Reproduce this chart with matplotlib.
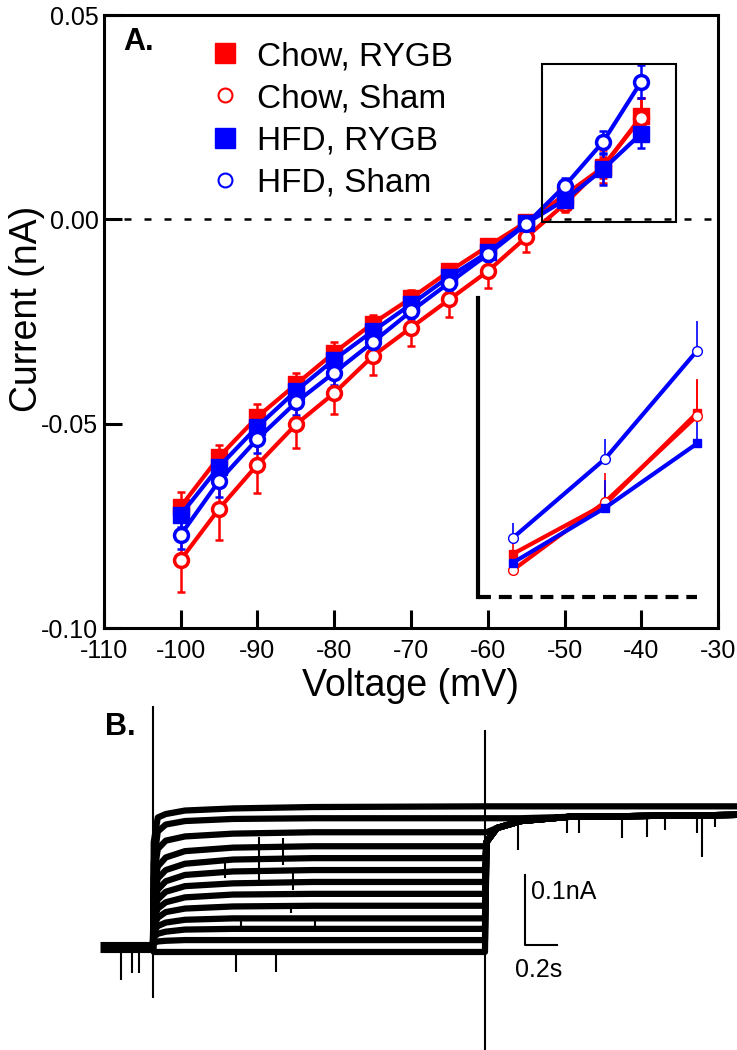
import matplotlib
matplotlib.use("Agg")
import matplotlib.pyplot as plt
import numpy as np
from matplotlib import font_manager as fm
from matplotlib.lines import Line2D
from matplotlib.patches import Rectangle

names = {f.name for f in fm.fontManager.ttflist}
narrow = 'Liberation Sans Narrow' if 'Liberation Sans Narrow' in names else 'Liberation Sans'
plt.rcParams['font.family'] = ['Liberation Sans', 'DejaVu Sans']

# ---- panel A data (I-V curves) ----
voltage = [-100, -95, -90, -85, -80, -75, -70, -65, -60, -55, -50, -45, -40]
chow_rygb = [-0.0703, -0.0581, -0.0483, -0.0404, -0.0326, -0.0255, -0.0193, -0.0127, -0.0066, -0.0007, 0.0059, 0.0127, 0.0252]
chow_sham = [-0.0833, -0.0708, -0.0600, -0.0502, -0.0425, -0.0335, -0.0265, -0.0196, -0.0127, -0.0044, 0.0037, 0.0130, 0.0248]
hfd_rygb = [-0.0723, -0.0605, -0.0507, -0.0420, -0.0343, -0.0274, -0.0208, -0.0140, -0.0081, -0.0010, 0.0047, 0.0122, 0.0210]
hfd_sham = [-0.0772, -0.0640, -0.0537, -0.0448, -0.0375, -0.0301, -0.0225, -0.0155, -0.0086, -0.0012, 0.0081, 0.0189, 0.0337]
chow_rygb_sem = [0.0035, 0.003, 0.003, 0.0028, 0.0025, 0.0022, 0.002, 0.0018, 0.0015, 0.0014, 0.0014, 0.0025, 0.0045]
chow_sham_sem = [0.0078, 0.0076, 0.0069, 0.0058, 0.0052, 0.0045, 0.0045, 0.0044, 0.0040, 0.0037, 0.0020, 0.0040, 0.0050]
hfd_rygb_sem = [0.0030, 0.003, 0.0028, 0.0025, 0.0022, 0.002, 0.002, 0.0018, 0.0015, 0.0014, 0.0014, 0.0038, 0.0035]
hfd_sham_sem = [0.0034, 0.0040, 0.0035, 0.0030, 0.0030, 0.0025, 0.0020, 0.0020, 0.0015, 0.0015, 0.0020, 0.0027, 0.0041]
xticks = [-110, -100, -90, -80, -70, -60, -50, -40, -30]
yticks = [0.05, 0.00, -0.05, -0.10]
ytick_labels = ['0.05', '0.00', '-0.05', '-0.10']
labels = ['Chow, RYGB', 'Chow, Sham', 'HFD, RYGB', 'HFD, Sham']

# ---- panel B data (current traces, nA vs s) ----
pre_t = [-0.33, 0.0]
step_t = [0.0, 0.005, 0.03, 0.08, 0.2, 0.5, 1.0, 2.075]
step_i = [
    [0.15, 0.185, 0.19, 0.195, 0.198, 0.200, 0.201],
    [0.12, 0.165, 0.175, 0.180, 0.183, 0.184, 0.184],
    [0.10, 0.140, 0.152, 0.158, 0.162, 0.164, 0.164],
    [0.085, 0.115, 0.128, 0.137, 0.142, 0.144, 0.144],
    [0.07, 0.098, 0.110, 0.119, 0.125, 0.127, 0.127],
    [0.06, 0.082, 0.094, 0.103, 0.108, 0.110, 0.110],
    [0.05, 0.068, 0.079, 0.087, 0.091, 0.093, 0.093],
    [0.04, 0.055, 0.064, 0.071, 0.075, 0.076, 0.076],
    [0.03, 0.042, 0.050, 0.055, 0.058, 0.059, 0.059],
    [0.022, 0.030, 0.035, 0.039, 0.041, 0.041, 0.041],
    [0.014, 0.019, 0.022, 0.025, 0.026, 0.026, 0.026],
    [0.006, 0.008, 0.009, 0.010, 0.010, 0.010, 0.010],
    [-0.007, -0.007, -0.007, -0.007, -0.007, -0.007, -0.007],
]
tail_t = [2.085, 2.15, 2.3, 2.6, 4.09]
tail_i = [0.15, 0.17, 0.18, 0.186, 0.19]
spike_t = [-0.20, -0.133, -0.0875, 0.52, 0.45, 0.66, 0.81, 0.875, 0.86, 0.55, 0.77, 1.01,
           2.28, 2.59, 2.66, 2.93, 3.09, 3.2, 3.4, 3.43, 3.51]
spike_hi = [0.0, 0.0, 0.0, -0.007, 0.124, 0.157, 0.156, 0.110, 0.063, 0.039, -0.007, 0.043,
            0.186, 0.186, 0.186, 0.186, 0.186, 0.186, 0.186, 0.186, 0.186]
spike_lo = [-0.047, -0.037, -0.037, -0.036, 0.099, 0.093, 0.117, 0.081, 0.049, 0.021, -0.036, 0.024,
            0.139, 0.163, 0.163, 0.156, 0.157, 0.167, 0.163, 0.129, 0.171]
transient_t = [0.0, 2.075]
transient_lo = [-0.073, -0.147]
transient_hi = [0.345, 0.31]

red = '#ff0000'
blue = '#0000ff'
series = [(chow_rygb, chow_rygb_sem, red, 's'),
          (chow_sham, chow_sham_sem, red, 'o'),
          (hfd_rygb, hfd_rygb_sem, blue, 's'),
          (hfd_sham, hfd_sham_sem, blue, 'o')]

fig = plt.figure(figsize=(7.37, 10.5), dpi=100)
W, H = 737., 1050.

# ---- panel A ----
ax = fig.add_axes([104/W, 1-628/H, (718-104)/W, (628-15)/H])
ax.axhline(0, color='k', lw=1.8, ls=(0, (2.8, 5.2)), zorder=1)
for y, e, c, m in series:
    ax.errorbar(voltage, y, yerr=e, fmt='none', ecolor=c, elinewidth=1.8,
                capsize=3, capthick=1.8, zorder=2)
    if m == 's':
        ax.plot(voltage, y, color=c, lw=3, marker='s', ms=11, zorder=3)
    else:
        ax.plot(voltage, y, color=c, lw=3, marker='o', ms=10, mfc='white',
                mec=c, mew=2.5, zorder=3)
ax.add_patch(Rectangle((-52.9, -0.0007), 17.4, 0.0386, fill=False, lw=1.5,
                       ec='k', zorder=4))
ax.set_xlim(-110, -30)
ax.set_ylim(-0.10, 0.05)
ax.set_xticks(xticks)
ax.set_xticklabels([str(v) for v in xticks], family=narrow, fontsize=18)
ax.set_yticks(yticks)
ax.set_yticklabels(ytick_labels, family=narrow, fontsize=18)
ax.tick_params(direction='in', length=13, width=2.2, pad=4)
ax.tick_params(axis='x', pad=8)
for s in ax.spines.values():
    s.set_linewidth(2.2)
ax.set_xlabel('Voltage (mV)', fontsize=27)
ax.xaxis.set_label_coords(0.5, -0.065)
ax.set_ylabel('Current (nA)', fontsize=27)
ax.yaxis.set_label_coords(-0.096, 0.52)

# legend drawn by hand
rows = [53, 95, 138, 180]
for (y, e, c, m), lab, r in zip(series, labels, rows):
    if m == 's':
        h = Line2D([225/W], [1-r/H], transform=fig.transFigure, marker='s', ms=14,
                   color=c, ls='none')
    else:
        h = Line2D([225/W], [1-r/H], transform=fig.transFigure, marker='o', ms=10,
                   mfc='white', mec=c, mew=1.5, ls='none')
    fig.lines.append(h)
    fig.text(257/W, 1-(r+12)/H, lab, fontsize=24, va='baseline', ha='left')
fig.text(123/W, 1-(39+11)/H, 'A.', fontsize=22, weight='bold', va='baseline')

# inset
axi = fig.add_axes([478/W, 1-597/H, 232/W, 299/H])
axi.set_xlim(-51.9, -39.3)
axi.set_ylim(0, 0.0409)
axi.patch.set_alpha(0)
for k in ['top', 'right', 'bottom']:
    axi.spines[k].set_visible(False)
axi.spines['left'].set_linewidth(3)
axi.set_xticks([])
axi.set_yticks([])
axi.axhline(0, xmax=0.944, color='k', lw=3, ls=(0, (3.1, 1.9)), clip_on=False)
for y, e, c, m in series:
    yy = y[-3:]
    axi.errorbar(voltage[-3:], yy, yerr=[np.zeros(3), e[-3:]], fmt='none',
                 ecolor=c, elinewidth=1.2, capsize=0, zorder=2)
    if m == 's':
        axi.plot(voltage[-3:], yy, color=c, lw=3, marker='s', ms=6, zorder=3,
                 clip_on=False)
    else:
        axi.plot(voltage[-3:], yy, color=c, lw=3, marker='o', ms=7, mfc='white',
                 mec=c, mew=1, zorder=3, clip_on=False)

# ---- panel B ----
axb = fig.add_axes([100/W, 0, 720/W, 390/H])
axb.set_xlim(-0.331, 4.169)
axb.set_ylim(-0.147, 0.41)
axb.axis('off')
axb.plot(pre_t, [0, 0], color='k', lw=8, solid_capstyle='butt')
for vals in step_i:
    t = list(pre_t[-1:]) + step_t[1:]
    yv = [0.0] + vals
    tt = t + tail_t
    ty = yv + list(np.maximum(vals[-1], tail_i))
    axb.plot(tt, ty, color='k', lw=4.5, solid_joinstyle='round')
axb.vlines(spike_t, spike_lo, spike_hi, color='k', lw=1.5)
axb.vlines(transient_t, transient_lo, transient_hi, color='k', lw=1.5)
# scale bar
axb.plot([2.325, 2.325, 2.525], [0.103, 0.003, 0.003], color='k', lw=1.5)
axb.text(2.36, 0.079, '0.1nA', fontsize=18, va='center', ha='left')
axb.text(2.26, -0.033, '0.2s', fontsize=18, va='center', ha='left')
fig.text(105/W, 1-(724+11)/H, 'B.', fontsize=22, weight='bold', va='baseline')

fig.savefig('out.png', dpi=100)
